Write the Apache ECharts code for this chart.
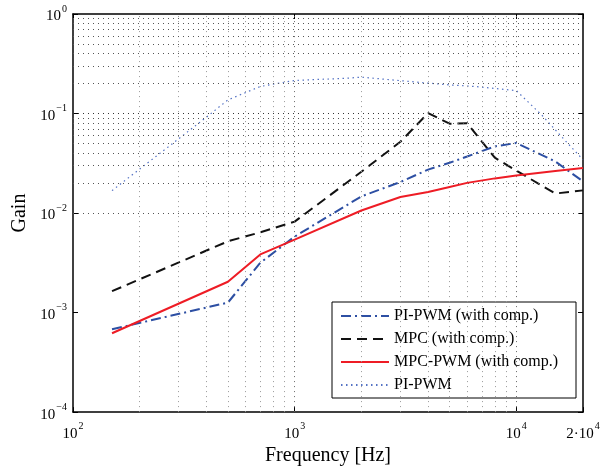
<!DOCTYPE html>
<html>
<head>
<meta charset="utf-8">
<script src="https://cdn.jsdelivr.net/npm/echarts@6/dist/echarts.min.js"></script>
<style>html,body{margin:0;padding:0;background:#fff}#c{width:611px;height:471px}</style>
</head>
<body>
<div id="c"></div>
<script>
// ---- data ----
const freqMain = [150, 500, 700, 1000, 2000, 3000, 4000, 5000, 6000, 8000, 10000, 15000, 20000];
const piPwmComp = [0.00068, 0.00126, 0.00316, 0.0058, 0.0147, 0.0205, 0.0273, 0.032, 0.037, 0.0467, 0.0506, 0.033, 0.0208];
const mpcComp   = [0.00164, 0.0052, 0.0064, 0.0082, 0.026, 0.052, 0.101, 0.079, 0.080, 0.036, 0.0267, 0.0157, 0.0169];
const mpcPwmComp= [0.00062, 0.00204, 0.00384, 0.0054, 0.0106, 0.0145, 0.0163, 0.0183, 0.0201, 0.0223, 0.0238, 0.0265, 0.0284];
const freqPiPwm = [150, 200, 300, 400, 500, 700, 1000, 1700, 2000, 3000, 4000, 5000, 6500, 10000, 13000, 17000, 20000];
const piPwm     = [0.0168, 0.0277, 0.0558, 0.092, 0.137, 0.187, 0.215, 0.226, 0.232, 0.214, 0.202, 0.194, 0.187, 0.170, 0.097, 0.0506, 0.0344];
const seriesNames = ['PI-PWM (with comp.)', 'MPC (with comp.)', 'MPC-PWM (with comp.)', 'PI-PWM'];
const xGridMajor = [1000, 10000];
const xGridMinor = [200, 300, 400, 500, 600, 700, 800, 900, 2000, 3000, 4000, 5000, 6000, 7000, 8000, 9000];
const yGridMajor = [0.001, 0.01, 0.1];
const yGridMinor = [];
[1e-4, 1e-3, 1e-2, 1e-1].forEach(d => { for (let k = 2; k <= 9; k++) yGridMinor.push(+(d * k).toPrecision(3)); });

const pairs = (xs, ys) => xs.map((x, i) => [x, ys[i]]);
const serif = '"Liberation Serif", "DejaVu Serif", serif';

function expLabel(v) {
  if (Math.abs(v - 20000) < 1) return '{b|2·10}{s|4}';
  const e = Math.round(Math.log10(v));
  return '{b|10}{s|' + (e < 0 ? '\u2212' + (-e) : e) + '}';
}
const rich = {
  b: { fontFamily: serif, fontSize: 15, color: '#000', lineHeight: 20, verticalAlign: 'bottom' },
  s: { fontFamily: serif, fontSize: 10, color: '#000', lineHeight: 20, verticalAlign: 'top', padding: [0, 0, 0, 1] }
};

const gridLineStyle = (c) => ({ type: [1, 4], color: c, width: 1 });
const mlData = [];
xGridMajor.forEach(v => mlData.push({ xAxis: v, lineStyle: gridLineStyle('#666') }));
xGridMinor.forEach(v => mlData.push({ xAxis: v, lineStyle: gridLineStyle('#999') }));
yGridMajor.forEach(v => mlData.push({ yAxis: v, lineStyle: gridLineStyle('#333') }));
yGridMinor.forEach(v => mlData.push({ yAxis: v, lineStyle: gridLineStyle('#555') }));

const chart = echarts.init(document.getElementById('c'), null, { renderer: 'canvas' });
const axisCommon = {
  type: 'log', logBase: 10,
  axisLine: { show: true, onZero: false, lineStyle: { color: '#000', width: 1.5 } },
  axisTick: { show: true, inside: true, length: 5, lineStyle: { color: '#000' } },
  splitLine: { show: false },
  minorTick: { show: false }
};
chart.setOption({
  animation: false,
  backgroundColor: '#fff',
  grid: { left: 73, right: 28, top: 14, bottom: 58, containLabel: false },
  xAxis: [
    Object.assign({}, axisCommon, {
      min: 100, max: 20000, position: 'bottom',
      name: 'Frequency [Hz]', nameLocation: 'middle', nameGap: 27,
      nameTextStyle: { fontFamily: serif, fontSize: 20, color: '#000' },
      axisLabel: { formatter: expLabel, rich: rich, margin: 9, interval: 0, showMaxLabel: true, showMinLabel: true }
    }),
    Object.assign({}, axisCommon, { min: 100, max: 20000, position: 'top', axisLabel: { show: false } })
  ],
  yAxis: [
    Object.assign({}, axisCommon, {
      min: 0.0001, max: 1, position: 'left',
      name: 'Gain', nameLocation: 'middle', nameGap: 42, nameRotate: 90,
      nameTextStyle: { fontFamily: serif, fontSize: 20, color: '#000' },
      axisLabel: { formatter: expLabel, rich: rich, margin: 6, interval: 0, showMaxLabel: true, showMinLabel: true }
    }),
    Object.assign({}, axisCommon, { min: 0.0001, max: 1, position: 'right', axisLabel: { show: false } })
  ],
  legend: {
    data: seriesNames,
    orient: 'vertical',
    left: 332, top: 302,
    padding: [6, 18, 5, 8],
    itemGap: 7,
    itemWidth: 48, itemHeight: 14,
    itemStyle: { opacity: 0 },
    backgroundColor: '#fff',
    borderColor: '#000', borderWidth: 1, borderRadius: 0,
    textStyle: { fontFamily: serif, fontSize: 16, color: '#000' }
  },
  series: [
    {
      name: '_grid', type: 'line', data: [], silent: true, z: 1,
      markLine: { silent: true, symbol: 'none', label: { show: false }, animation: false, data: mlData }
    },
    {
      name: seriesNames[0], type: 'line', data: pairs(freqMain, piPwmComp), symbol: 'none', z: 4,
      lineStyle: { color: '#2d4fa3', width: 2, type: [10, 4, 2, 4] }, itemStyle: { color: '#2d4fa3' }
    },
    {
      name: seriesNames[1], type: 'line', data: pairs(freqMain, mpcComp), symbol: 'none', z: 3,
      lineStyle: { color: '#111', width: 2, type: [10, 6] }, itemStyle: { color: '#111' }
    },
    {
      name: seriesNames[2], type: 'line', data: pairs(freqMain, mpcPwmComp), symbol: 'none', z: 5,
      lineStyle: { color: '#ee1c25', width: 2, type: 'solid' }, itemStyle: { color: '#ee1c25' }
    },
    {
      name: seriesNames[3], type: 'line', data: pairs(freqPiPwm, piPwm), symbol: 'none', z: 2,
      lineStyle: { color: '#5472c4', width: 1.2, type: [1.5, 3.5] }, itemStyle: { color: '#5472c4' }
    }
  ]
});
</script>
</body>
</html>
